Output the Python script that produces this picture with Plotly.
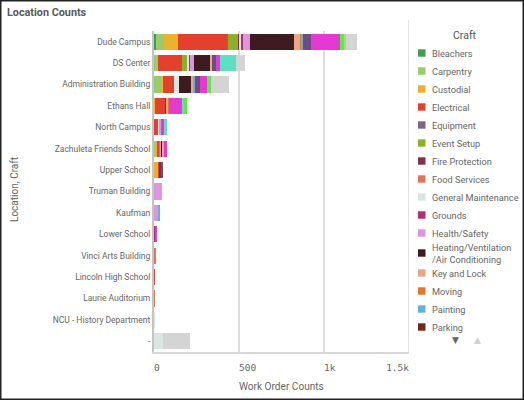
import plotly.graph_objects as go

# locations, top to bottom
locations = ["Dude Campus", "DS Center", "Administration Building", "Ethans Hall",
             "North Campus", "Zachuleta Friends School", "Upper School",
             "Truman Building", "Kaufman", "Lower School", "Vinci Arts Building",
             "Lincoln High School", "Laurie Auditorium", "NCU - History Department", "-"]

# work order counts per craft, one value per location (same order as above)
bleachers = [10, 0, 0, 0, 0, 0, 0, 0, 0, 0, 0, 0, 0, 0, 0]
carpentry = [49, 18, 47, 0, 0, 6, 0, 0, 0, 0, 0, 0, 0, 0, 0]
custodial = [82, 5, 8, 8, 0, 10, 22, 0, 0, 0, 0, 0, 0, 0, 0]
electrical = [290, 140, 65, 59, 27, 15, 12, 0, 0, 0, 0, 1, 0, 0, 0]
equipment = [4, 0, 0, 0, 0, 0, 0, 0, 0, 0, 0, 0, 0, 0, 0]
event_setup = [63, 30, 0, 0, 0, 0, 0, 0, 0, 0, 0, 0, 0, 0, 0]
fire_protection = [4, 0, 0, 8, 0, 0, 10, 0, 0, 0, 0, 0, 0, 0, 0]
food_services = [0, 0, 0, 0, 0, 10, 0, 0, 0, 0, 8, 0, 1, 0, 0]
general_maintenance = [15, 15, 29, 0, 6, 0, 0, 0, 0, 0, 0, 0, 0, 1, 50]
grounds = [5, 6, 0, 0, 0, 0, 0, 0, 0, 6, 0, 0, 0, 0, 0]
health_safety = [43, 20, 0, 0, 10, 5, 0, 47, 24, 0, 0, 0, 0, 0, 0]
hvac = [259, 98, 70, 0, 0, 5, 0, 0, 0, 0, 0, 0, 0, 0, 0]
key_and_lock = [33, 8, 12, 8, 0, 6, 0, 0, 0, 0, 0, 0, 0, 0, 0]
moving = [12, 0, 4, 4, 0, 0, 0, 0, 0, 0, 0, 0, 0, 0, 0]
painting = [8, 0, 6, 0, 0, 0, 0, 0, 6, 0, 0, 0, 0, 0, 0]
parking = [0, 0, 0, 0, 0, 0, 0, 0, 0, 0, 0, 0, 0, 0, 0]
pest_control = [45, 24, 29, 0, 0, 0, 8, 0, 0, 0, 0, 0, 0, 0, 0]
plumbing = [171, 25, 39, 80, 15, 18, 0, 0, 0, 8, 0, 0, 0, 0, 0]
roofing = [0, 92, 0, 8, 18, 0, 0, 0, 0, 0, 0, 0, 0, 0, 0]
security = [25, 0, 29, 20, 0, 0, 0, 0, 0, 0, 0, 0, 0, 0, 0]
snow_removal = [14, 0, 0, 0, 0, 0, 0, 0, 0, 0, 0, 0, 0, 0, 0]
other = [65, 53, 102, 0, 0, 0, 0, 0, 0, 0, 0, 0, 0, 0, 160]

crafts = ["Bleachers", "Carpentry", "Custodial", "Electrical", "Equipment",
          "Event Setup", "Fire Protection", "Food Services", "General Maintenance",
          "Grounds", "Health/Safety", "Heating/Ventilation<br>/Air Conditioning",
          "Key and Lock", "Moving", "Painting", "Parking", "Pest Control",
          "Plumbing", "Roofing", "Security", "Snow Removal", "Other"]
series = [bleachers, carpentry, custodial, electrical, equipment, event_setup,
          fire_protection, food_services, general_maintenance, grounds,
          health_safety, hvac, key_and_lock, moving, painting, parking,
          pest_control, plumbing, roofing, security, snow_removal, other]
colors = ["#3f9e4d", "#97cc6b", "#eab32f", "#e3402d", "#7a6a82", "#8bb12a",
          "#842f4c", "#df7659", "#d6e8e1", "#b02f6e", "#de95de", "#3e1b21",
          "#e8a887", "#e2782b", "#64aee2", "#6f2a1c", "#6a4e80", "#e43ad2",
          "#5ce0c0", "#5ee84a", "#a6de7c", "#d4d4d4"]

x_ticks = [0, 500, 1000, 1500]
x_labels = ["0", "500", "1k", "1.5k"]

# legend only shows the first page, the rest sits behind the arrows
legend_visible = 16

W, H = 524, 400
PL, PR, PT, PB = 154, 409, 31, 352


def px(x):
    return (x - PL) / (PR - PL)


def py(y):
    return (PB - y) / (PB - PT)


# Qlik puts tick labels to the right of the gridline, the last one to the left
nb = "\u00a0"
tick_text = [nb * len(s) + s for s in x_labels[:-1]] + [x_labels[-1] + nb * len(x_labels[-1])]

fig = go.Figure()
for name, vals, col in zip(crafts, series, colors):
    fig.add_trace(go.Bar(
        y=locations, x=vals, name=name.replace("<br>", ""), orientation="h",
        marker=dict(color=col, line=dict(width=0)), showlegend=False,
    ))

font = "Roboto"
grey = "#666666"

shapes = [
    # legend separator
    dict(type="line", xref="paper", yref="paper", x0=px(408.5), x1=px(408.5),
         y0=py(20), y1=py(352), line=dict(color="#e2e2e2", width=1)),
    # outer frame
    dict(type="rect", xref="paper", yref="paper", x0=px(0.5), x1=px(W - 0.5),
         y0=py(H - 0.5), y1=py(0.5), line=dict(color="#222222", width=2)),
]
annotations = [
    dict(text="<b>Location Counts</b>", x=px(5), y=py(12.5), xref="paper", yref="paper",
         xanchor="left", yanchor="middle", showarrow=False,
         font=dict(family=font, size=10.8, color="#595959")),
    dict(text="Location, Craft", x=px(14), y=py(190), xref="paper", yref="paper",
         textangle=-90, xanchor="center", yanchor="middle", showarrow=False,
         font=dict(family=font, size=10, color=grey)),
    dict(text="Work Order Counts", x=px(281.5), y=py(387), xref="paper", yref="paper",
         xanchor="center", yanchor="middle", showarrow=False,
         font=dict(family=font, size=10.1, color=grey)),
    dict(text="Craft", x=px(465), y=py(35), xref="paper", yref="paper",
         xanchor="center", yanchor="middle", showarrow=False,
         font=dict(family=font, size=10.5, color="#555555")),
    dict(text="▼", x=px(455), y=py(340), xref="paper", yref="paper",
         xanchor="center", yanchor="middle", showarrow=False,
         font=dict(family="DejaVu Sans", size=9, color="#666666")),
    dict(text="▲", x=px(477), y=py(340), xref="paper", yref="paper",
         xanchor="center", yanchor="middle", showarrow=False,
         font=dict(family="DejaVu Sans", size=9, color="#d0d0d0")),
]

# hand-drawn legend page
yc = 53
for i in range(legend_visible):
    lines = crafts[i].count("<br>") + 1
    yc_item = yc + (lines - 1) * 2
    shapes.append(dict(type="rect", xref="paper", yref="paper",
                       x0=px(418), x1=px(425.5), y0=py(yc_item + 3.7), y1=py(yc_item - 3.7),
                       fillcolor=colors[i], line=dict(width=0)))
    annotations.append(dict(text=crafts[i], x=px(430), y=py(yc_item), xref="paper",
                            yref="paper", xanchor="left", yanchor="middle",
                            align="left", showarrow=False,
                            font=dict(family=font, size=9.2, color=grey)))
    yc += 18 + (lines - 1) * 4

fig.update_layout(
    width=W, height=H,
    margin=dict(l=PL, r=W - PR, t=PT, b=H - PB),
    barmode="stack", bargap=0.25,
    plot_bgcolor="white", paper_bgcolor="white",
    showlegend=False,
    shapes=shapes, annotations=annotations,
    xaxis=dict(range=[0, 1500], tickvals=x_ticks, ticktext=tick_text,
               showgrid=True, gridcolor="#dcdcdc", gridwidth=1.5, zeroline=False,
               showline=True, linecolor="#d6d6d6", linewidth=1.5,
               ticks="", ticklabelstandoff=6,
               tickfont=dict(family="DejaVu Sans Mono", size=9.5, color=grey)),
    yaxis=dict(type="category", autorange="reversed", showgrid=False,
               showline=True, linecolor="#c4c4c4", linewidth=2, ticks="",
               ticklabelstandoff=0,
               tickfont=dict(family=font, size=8.5, color=grey)),
)

fig.write_html("out.html", config={"displayModeBar": False},
               post_script="document.body.style.margin='0px';")
